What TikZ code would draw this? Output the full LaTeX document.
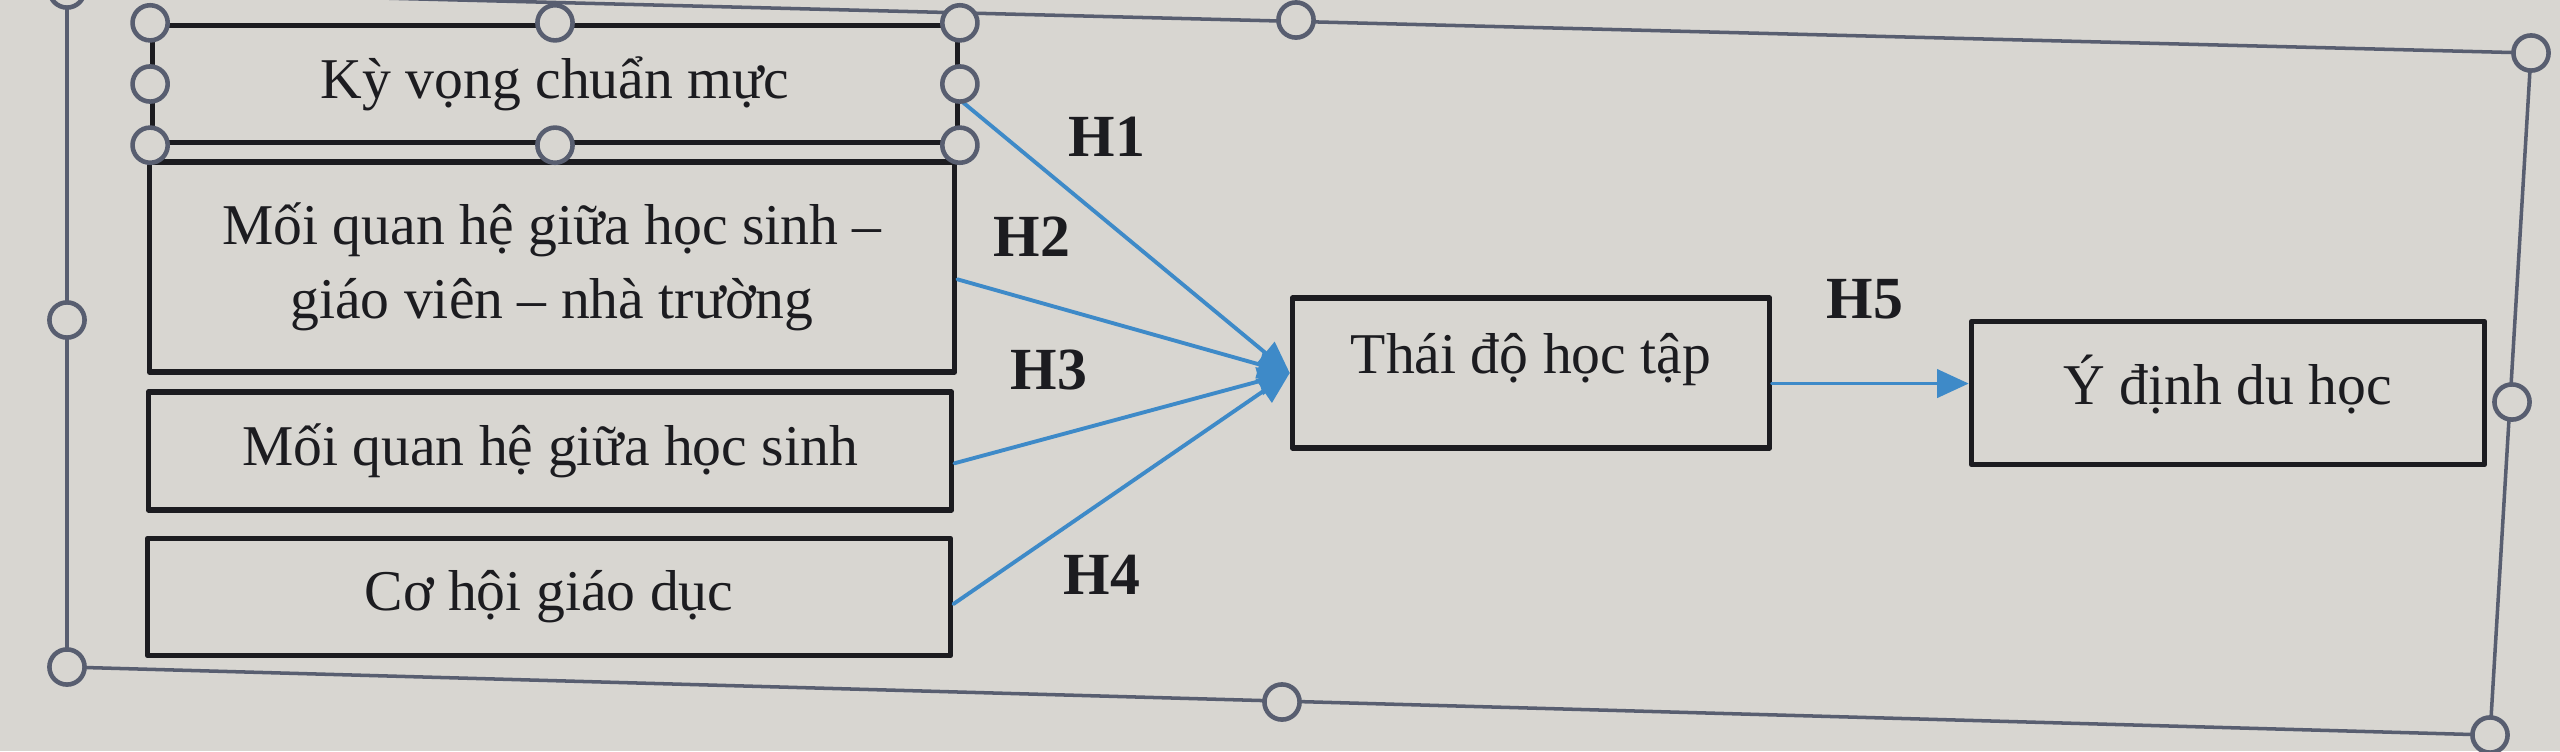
\documentclass[tikz,border=0pt]{standalone}
\usepackage{fontspec}
\setmainfont{Liberation Serif}
\usepackage{tikz}
\usetikzlibrary{arrows.meta}
\definecolor{bgpaper}{RGB}{216,214,209}
\definecolor{hypblue}{RGB}{62,138,200}
\definecolor{selgray}{RGB}{88,94,112}
\definecolor{inkblack}{RGB}{28,28,32}

\begin{document}
\begin{tikzpicture}[line cap=round,line join=round,>={Triangle[length=9pt,width=8pt]},x=0.01cm,y=-0.01cm,
    factor/.style={draw=inkblack,line width=1.5pt,fill=bgpaper,inner sep=0pt,align=center,
      font=\fontsize{16.4}{21}\selectfont,text=inkblack},
    hyp/.style={->,draw=hypblue,fill=hypblue,line width=1.1pt},
    hlabel/.style={font=\fontsize{17}{20}\selectfont\bfseries,text=inkblack,inner sep=0pt},
    handle/.style={draw=selgray,line width=1.3pt,fill=bgpaper}]
                  \clip (0,0) rectangle (2560,751);
                  \fill[bgpaper] (0,0) rectangle (2560,751);
                  % selection frame of the group
                  \draw[selgray,line width=1pt] (67,-10) -- (2531,53) -- (2490,735) -- (67,667) -- cycle;
                  % factors
                  \node[factor,minimum width=8.04cm,minimum height=1.17cm] (k1) at (555,84) {Kỳ vọng chuẩn mực};
                  \node[factor,minimum width=8.05cm,minimum height=2.10cm] (k2) at (552,267) {Mối quan hệ giữa học sinh –\\giáo viên – nhà trường};
                  \node[factor,minimum width=8.03cm,minimum height=1.18cm] (k3) at (550,451) {Mối quan hệ giữa học sinh};
                  \node[factor,minimum width=8.03cm,minimum height=1.17cm] (k4) at (549,597) {Cơ hội giáo dục};
                  \node[factor,minimum width=4.77cm,minimum height=1.50cm,text height=12pt,text depth=12pt] (td) at (1531,373) {Thái độ học tập};
                  \node[factor,minimum width=5.13cm,minimum height=1.43cm,text height=12pt,text depth=5.5pt] (yd) at (2228,393) {Ý định du học};
                  % hypotheses
                  \draw[hyp] ([yshift=-4.5pt]k1.east) -- (td.west);
                  \draw[hyp] ([yshift=-3.5pt]k2.east) -- (td.west);
                  \draw[hyp] ([yshift=-3.5pt]k3.east) -- (td.west);
                  \draw[hyp] ([yshift=-2pt]k4.east) -- (td.west);
                  \coordinate (h5a) at ([yshift=-3pt]td.east);
                  \draw[hyp] (h5a) -- (h5a -| yd.west);
                  \node[hlabel] (lh1) at (1107,137) {H1};
                  \node[hlabel] (lh2) at (1032,237) {H2};
                  \node[hlabel] (lh3) at (1049,370) {H3};
                  \node[hlabel] (lh4) at (1102,575) {H4};
                  \node[hlabel] (lh5) at (1865,299) {H5};
                  % handles
                  \draw[handle] (67,-10) circle (5pt);
                  \draw[handle] (1296,20) circle (5pt);
                  \draw[handle] (2531,53) circle (5pt);
                  \draw[handle] (67,320) circle (5pt);
                  \draw[handle] (2512,402) circle (5pt);
                  \draw[handle] (67,667) circle (5pt);
                  \draw[handle] (1282,702) circle (5pt);
                  \draw[handle] (2490,735) circle (5pt);
                  \draw[handle] (k1.north west) circle (5pt);
                  \draw[handle] (k1.west) circle (5pt);
                  \draw[handle] (k1.south west) circle (5pt);
                  \draw[handle] (k1.north) circle (5pt);
                  \draw[handle] (k1.south) circle (5pt);
                  \draw[handle] (k1.north east) circle (5pt);
                  \draw[handle] (k1.east) circle (5pt);
                  \draw[handle] (k1.south east) circle (5pt);
\end{tikzpicture}
\end{document}
